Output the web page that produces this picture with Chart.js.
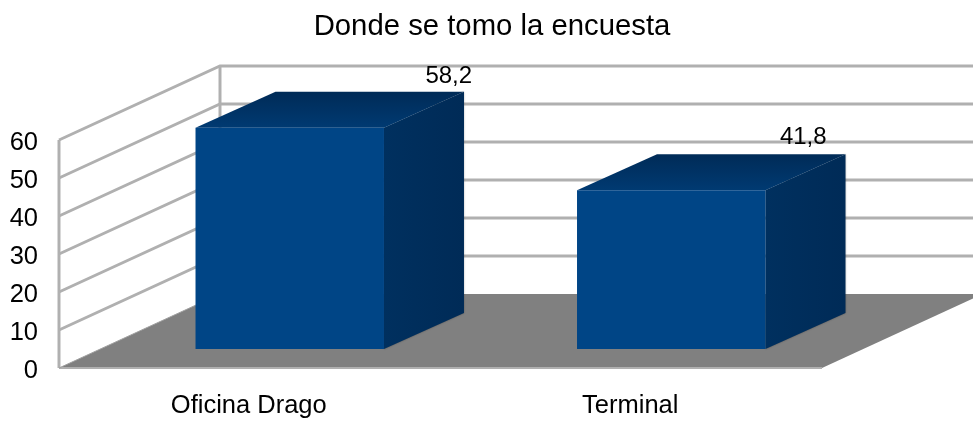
<!DOCTYPE html>
<html><head><meta charset="utf-8">
<style>html,body{margin:0;padding:0;background:#fff}#w{position:relative;width:973px;height:423px;overflow:hidden}canvas{filter:blur(0.45px)}</style>
<script src="https://cdn.jsdelivr.net/npm/chart.js@4"></script></head>
<body><div id="w"><canvas id="c" width="973" height="423"></canvas></div>
<script>
const titleText = "Donde se tomo la encuesta";
const categories = ["Oficina Drago", "Terminal"];
const values = [58.2, 41.8];
const valueLabels = ["58,2", "41,8"];
const yTicks = [0, 10, 20, 30, 40, 50, 60];
const FONT = '"Liberation Sans", Arial, sans-serif';
const wall = {dx: 161, dy: -74};
const barOffset = {dx: 40, dy: -19};
const barDepth = {dx: 80, dy: -36};
const labelNudge = [{dx: 199, dy: -70}, {dx: 172, dy: -72}];

const threeD = {
  id: 'threeD',
  beforeDatasetsDraw(chart) {
    const {ctx, scales: {y}, chartArea: a} = chart;
    ctx.save();
    ctx.fillStyle = '#808080';
    const y0 = y.getPixelForValue(0);
    ctx.beginPath();
    ctx.moveTo(a.left, y0); ctx.lineTo(a.right, y0);
    ctx.lineTo(a.right + wall.dx, y0 + wall.dy); ctx.lineTo(a.left + wall.dx, y0 + wall.dy);
    ctx.closePath(); ctx.fill();
    ctx.strokeStyle = '#b0b0b0'; ctx.lineWidth = 3;
    yTicks.forEach(t => {
      const p = y.getPixelForValue(t);
      ctx.lineWidth = t === 0 ? 2 : 3;
      ctx.beginPath();
      if (t === 0) { ctx.moveTo(a.right, p); ctx.lineTo(a.left, p); ctx.stroke(); return; }
      ctx.moveTo(a.left, p); ctx.lineTo(a.left + wall.dx, p + wall.dy);
      ctx.lineTo(a.right + wall.dx, p + wall.dy);
      ctx.stroke();
    });
    const top = y.getPixelForValue(60);
    ctx.lineWidth = 3;
    ctx.beginPath(); ctx.moveTo(a.left + wall.dx, top + wall.dy); ctx.lineTo(a.left + wall.dx, y0 + wall.dy); ctx.stroke();
    ctx.beginPath(); ctx.moveTo(a.left, top); ctx.lineTo(a.left, y0); ctx.stroke();
    ctx.beginPath(); ctx.moveTo(a.left, y0); ctx.lineTo(a.left + wall.dx, y0 + wall.dy); ctx.strokeStyle='#a0a0a0'; ctx.lineWidth=1; ctx.stroke();
    ctx.restore();
    // side and top faces of each bar
    ctx.save();
    chart.getDatasetMeta(0).data.forEach(b => {
      const l = b.x - b.width / 2 + barOffset.dx, r = b.x + b.width / 2 + barOffset.dx;
      const t = b.y + barOffset.dy, bt = b.base + barOffset.dy;
      ctx.shadowColor = 'rgba(0,0,0,0.35)'; ctx.shadowBlur = 2;
      let g = ctx.createLinearGradient(r, 0, r + barDepth.dx, 0);
      g.addColorStop(0, '#00305f'); g.addColorStop(1, '#002b57');
      ctx.fillStyle = g;
      ctx.beginPath();
      ctx.moveTo(r, t); ctx.lineTo(r + barDepth.dx, t + barDepth.dy);
      ctx.lineTo(r + barDepth.dx, bt + barDepth.dy); ctx.lineTo(r, bt);
      ctx.closePath(); ctx.fill();
      ctx.shadowBlur = 0;
      g = ctx.createLinearGradient(0, t + barDepth.dy, 0, t);
      g.addColorStop(0, '#002b57'); g.addColorStop(1, '#003a72');
      ctx.fillStyle = g;
      ctx.beginPath();
      ctx.moveTo(l, t); ctx.lineTo(l + barDepth.dx, t + barDepth.dy);
      ctx.lineTo(r + barDepth.dx, t + barDepth.dy); ctx.lineTo(r, t);
      ctx.closePath(); ctx.fill();
    });
    ctx.restore();
  },
  beforeDatasetDraw(chart) {
    chart.ctx.save();
    chart.ctx.translate(barOffset.dx, barOffset.dy);
  },
  afterDatasetDraw(chart) { chart.ctx.restore(); },
  afterDatasetsDraw(chart) {
    const {ctx} = chart;
    ctx.save();
    ctx.fillStyle = '#000';
    ctx.textBaseline = 'middle';
    ctx.textAlign = 'center';
    ctx.font = '24px ' + FONT;
    chart.getDatasetMeta(0).data.forEach((b, i) => {
      ctx.fillText(valueLabels[i], b.x + labelNudge[i].dx, b.y + labelNudge[i].dy);
    });
    ctx.font = '29.3px ' + FONT;
    ctx.fillText(titleText, 492, 27);
    ctx.restore();
  }
};

new Chart(document.getElementById('c'), {
  type: 'bar',
  data: {
    labels: categories,
    datasets: [{
      data: values,
      backgroundColor: '#004586',
      borderWidth: 0,
      barPercentage: 1,
      categoryPercentage: 0.494
    }]
  },
  options: {
    responsive: false,
    animation: false,
    layout: {padding: {top: 140, right: 151, bottom: 0, left: 0}},
    plugins: {legend: {display: false}, title: {display: false}, tooltip: {enabled: false}},
    scales: {
      x: {
        grid: {display: false, drawTicks: false},
        border: {display: false},
        afterFit(s) { s.height = 55; },
        ticks: {color: '#000', font: {family: FONT, size: 25.5}, padding: 23, maxRotation: 0, labelOffset: -1}
      },
      y: {
        min: 0, max: 60,
        afterFit(s) { s.width = 59; },
        grid: {display: false, drawTicks: false},
        border: {display: false},
        ticks: {stepSize: 10, color: '#000', font: {family: FONT, size: 25.5}, padding: 21, labelOffset: 3}
      }
    }
  },
  plugins: [threeD]
});
</script></body></html>
